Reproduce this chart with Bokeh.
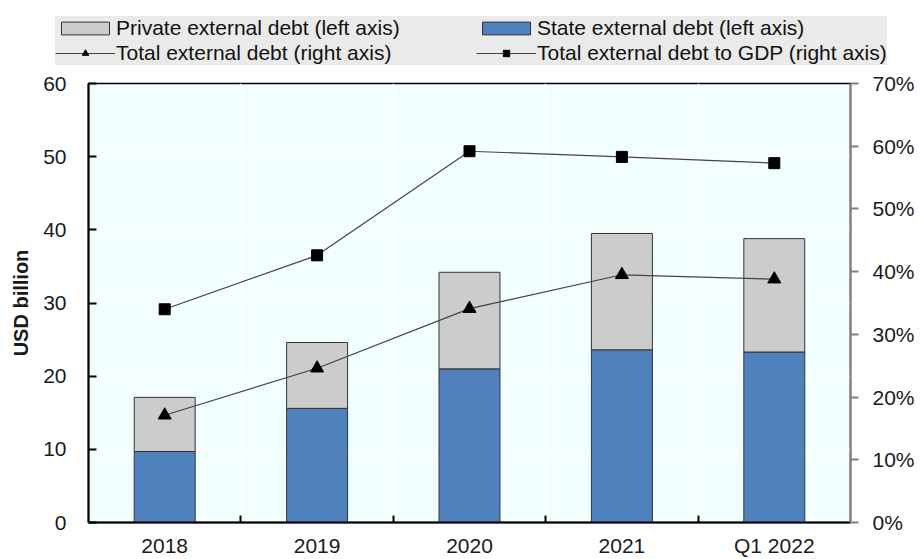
from bokeh.plotting import figure
from bokeh.models import (ColumnDataSource, Range1d, LinearAxis, FixedTicker,
                          PrintfTickFormatter, Legend, LegendItem)
from bokeh.embed import file_html
from bokeh.resources import INLINE

# ---- data ----
categories = ["2018", "2019", "2020", "2021", "Q1 2022"]
state_debt = [9.7, 15.6, 21.0, 23.6, 23.3]          # USD bn, left axis
private_debt = [7.4, 9.0, 13.2, 15.9, 15.5]         # USD bn, left axis
total_debt = [17.1, 24.6, 34.1, 39.5, 38.8]         # right axis
debt_to_gdp = [34.0, 42.6, 59.2, 58.3, 57.3]        # %, right axis
left_ticks = [0, 10, 20, 30, 40, 50, 60]
right_ticks = [0, 10, 20, 30, 40, 50, 60, 70]
legend_labels = ["Private external debt (left axis)",
                 "State external debt (left axis)",
                 "Total external debt (right axis)",
                 "Total external debt to GDP (right axis)"]

FONT = "Liberation Sans"
BLUE = "#4F81BD"
GREY = "#CCCCCC"
BAR_LINE = "#333333"
LINE_C = "#444444"

xs = list(range(len(categories)))
src = ColumnDataSource(dict(
    x=xs,
    state=state_debt,
    total_top=[s + p for s, p in zip(state_debt, private_debt)],
    total_debt=total_debt,
    gdp=debt_to_gdp,
))

# ---------------- main chart ----------------
p = figure(width=922, height=489, output_backend="svg", toolbar_location=None,
           x_range=Range1d(-0.5, len(categories) - 0.5), y_range=Range1d(0, 60),
           min_border_left=88, min_border_right=72, min_border_top=13,
           min_border_bottom=36)
p.background_fill_color = "#F2FFFF"
p.border_fill_color = "white"
p.outline_line_color = "black"
p.outline_line_width = 1.5
p.extra_y_ranges = {"right": Range1d(0, 70)}


def draw_series(fig, y_right):
    rs = fig.vbar(x="x", width=0.4, bottom=0, top="state", source=src,
                  fill_color=BLUE, line_color=BAR_LINE, line_width=1)
    rp = fig.vbar(x="x", width=0.4, bottom="state", top="total_top", source=src,
                  fill_color=GREY, line_color=BAR_LINE, line_width=1)
    tl = fig.line(x="x", y="total_debt", source=src, y_range_name=y_right,
                  line_color=LINE_C, line_width=1.2)
    tm = fig.scatter(x="x", y="total_debt", source=src, y_range_name=y_right,
                     marker="triangle", size=13, fill_color="black", line_color="black")
    gl = fig.line(x="x", y="gdp", source=src, y_range_name=y_right,
                  line_color=LINE_C, line_width=1.2)
    gm = fig.scatter(x="x", y="gdp", source=src, y_range_name=y_right,
                     marker="square", size=11, fill_color="black", line_color="black")
    return rs, rp, tl, tm, gl, gm


draw_series(p, "right")

xax = p.xaxis[0]
xax.ticker = FixedTicker(ticks=xs, minor_ticks=[i + 0.5 for i in xs[:-1]])
xax.major_label_overrides = {i: c for i, c in zip(xs, categories)}
xax.major_tick_in = 0
xax.major_tick_out = 0
xax.minor_tick_in = 7
xax.minor_tick_out = 0
xax.minor_tick_line_color = "black"
xax.minor_tick_line_width = 2
xax.axis_line_color = "black"
xax.axis_line_width = 2
xax.major_label_standoff = 11
xax.major_label_text_font = FONT
xax.major_label_text_font_size = "21px"
xax.major_label_text_color = "#1a1a1a"

yax = p.yaxis[0]
yax.ticker = FixedTicker(ticks=left_ticks)
yax.major_tick_in = 8
yax.major_tick_out = 0
yax.minor_tick_line_color = None
yax.major_tick_line_color = "black"
yax.major_tick_line_width = 2
yax.axis_line_color = "black"
yax.axis_line_width = 2
yax.major_label_standoff = 22
yax.major_label_text_font = FONT
yax.major_label_text_font_size = "21px"
yax.major_label_text_color = "#1a1a1a"
yax.axis_label = "USD billion"
yax.axis_label_text_font = FONT
yax.axis_label_text_font_size = "20px"
yax.axis_label_text_font_style = "bold"
yax.axis_label_text_color = "#1a1a1a"
yax.axis_label_standoff = 8

rax = LinearAxis(y_range_name="right", ticker=FixedTicker(ticks=right_ticks),
                 formatter=PrintfTickFormatter(format="%d%%"))
rax.major_tick_in = 0
rax.major_tick_out = 8
rax.minor_tick_line_color = None
rax.major_tick_line_color = "#808080"
rax.major_tick_line_width = 2
rax.axis_line_color = "#808080"
rax.axis_line_width = 2
rax.major_label_standoff = 14
rax.major_label_text_font = FONT
rax.major_label_text_font_size = "21px"
rax.major_label_text_color = "#1a1a1a"
p.add_layout(rax, "right")

p.ygrid.grid_line_color = "white"
p.ygrid.grid_line_width = 1.5
p.xgrid.grid_line_color = None
p.xgrid.minor_grid_line_color = "white"
p.xgrid.minor_grid_line_width = 1.5

# ---------------- legend strip (separate root, series kept out of view) ----------------
lg = figure(width=922, height=70, output_backend="svg", toolbar_location=None,
            min_border=0, x_axis_type=None, y_axis_type=None,
            x_range=Range1d(-200, -100), y_range=Range1d(-200, -100))
lg.extra_y_ranges = {"right": Range1d(-200, -100)}
lg.outline_line_color = None
lg.grid.visible = False
lg.background_fill_color = "white"
l_state, l_priv, l_tl, l_tm, l_gl, l_gm = draw_series(lg, "right")


def style(leg):
    leg.background_fill_color = "#EAEAEA"
    leg.background_fill_alpha = 1
    leg.border_line_color = None
    leg.padding = 3
    leg.spacing = 1
    leg.margin = 0
    leg.glyph_width = 60
    leg.glyph_height = 16
    leg.label_standoff = 1
    leg.label_height = 20
    leg.label_text_font = FONT
    leg.label_text_font_size = "21px"
    leg.label_text_color = "#111111"


leg1 = Legend(items=[
    LegendItem(label=legend_labels[0], renderers=[l_priv]),
    LegendItem(label=legend_labels[2], renderers=[l_tl, l_tm]),
], location=(55, 5))
style(leg1)
leg1.label_width = 380
leg2 = Legend(items=[
    LegendItem(label=legend_labels[1], renderers=[l_state]),
    LegendItem(label=legend_labels[3], renderers=[l_gl, l_gm]),
], location=(476, 5))
style(leg2)
leg2.label_width = 350
lg.add_layout(leg1, "center")
lg.add_layout(leg2, "center")

open("out.html", "w").write(file_html((lg, p), INLINE))
